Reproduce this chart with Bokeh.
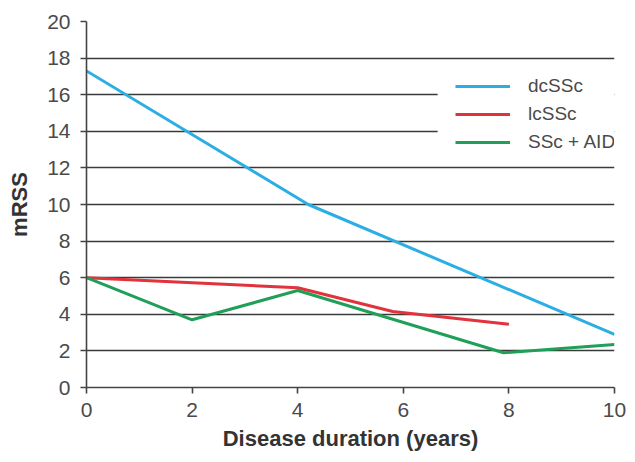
from bokeh.plotting import figure
from bokeh.models import Range1d, Legend, LegendItem, FixedTicker, BoxAnnotation
from bokeh.embed import file_html
from bokeh.resources import INLINE

# Data
dc_x = [0, 4.2, 10]
dc_y = [17.3, 10.0, 2.9]
lc_x = [0, 4, 5.8, 8]
lc_y = [6.0, 5.45, 4.15, 3.45]
aid_x = [0, 2, 4, 7.9, 10]
aid_y = [6.0, 3.7, 5.3, 1.9, 2.35]
series_names = ["dcSSc", "lcSSc", "SSc + AID"]
colors = ["#2aaee4", "#e2323c", "#1f9f58"]
x_ticks = [0, 2, 4, 6, 8, 10]
y_ticks = list(range(0, 21, 2))

FONT = "Liberation Sans"

p = figure(width=627, height=454, output_backend="svg", toolbar_location=None,
           x_range=Range1d(0, 10), y_range=Range1d(0, 20),
           min_border_left=86, min_border_right=13, min_border_top=21, min_border_bottom=67)
p.outline_line_color = None
p.background_fill_color = "white"
p.border_fill_color = "white"

p.xgrid.grid_line_color = None
p.ygrid.grid_line_color = "#3a3a3a"
p.ygrid.grid_line_width = 1.6
p.ygrid.ticker = FixedTicker(ticks=y_ticks)

p.xaxis.ticker = FixedTicker(ticks=x_ticks)
p.yaxis.ticker = FixedTicker(ticks=y_ticks)
for ax in (p.xaxis[0], p.yaxis[0]):
    ax.axis_line_color = "#444444"
    ax.axis_line_width = 1.6
    ax.major_tick_line_color = "#444444"
    ax.major_tick_line_width = 1.6
    ax.major_tick_out = 6
    ax.major_tick_in = 0
    ax.minor_tick_line_color = None
    ax.major_label_text_font = FONT
    ax.major_label_text_font_size = "21px"
    ax.major_label_text_color = "#4a4a4a"
    ax.axis_label_text_font = FONT
    ax.axis_label_text_font_size = "22px"
    ax.axis_label_text_font_style = "bold"
    ax.axis_label_text_color = "#333333"

p.xaxis.axis_label = "Disease duration (years)"
p.yaxis.axis_label = "mRSS"
p.xaxis.major_label_standoff = 9
p.yaxis.major_label_standoff = 10
p.xaxis.axis_label_standoff = 6
p.yaxis.axis_label_standoff = 12

r1 = p.line(dc_x, dc_y, line_color=colors[0], line_width=3)
r2 = p.line(lc_x, lc_y, line_color=colors[1], line_width=3)
r3 = p.line(aid_x, aid_y, line_color=colors[2], line_width=3)

# white area behind the legend that hides the grid lines there
mask = BoxAnnotation(left=6.65, right=10, bottom=12.3, top=17.8,
                     fill_color="white", fill_alpha=1.0, line_color=None)
p.add_layout(mask)

legend = Legend(items=[LegendItem(label=series_names[0], renderers=[r1]),
                       LegendItem(label=series_names[1], renderers=[r2]),
                       LegendItem(label=series_names[2], renderers=[r3])],
                location=(369, 234))
legend.background_fill_color = "white"
legend.background_fill_alpha = 1.0
legend.border_line_color = None
legend.padding = 0
legend.spacing = 6
legend.glyph_width = 55
legend.glyph_height = 20
legend.label_height = 20
legend.label_standoff = 18
legend.label_text_font = FONT
legend.label_text_font_size = "19px"
legend.label_text_color = "#4a4a4a"
legend.margin = 0
p.add_layout(legend, "center")

open("out.html", "w").write(file_html(p, INLINE))
